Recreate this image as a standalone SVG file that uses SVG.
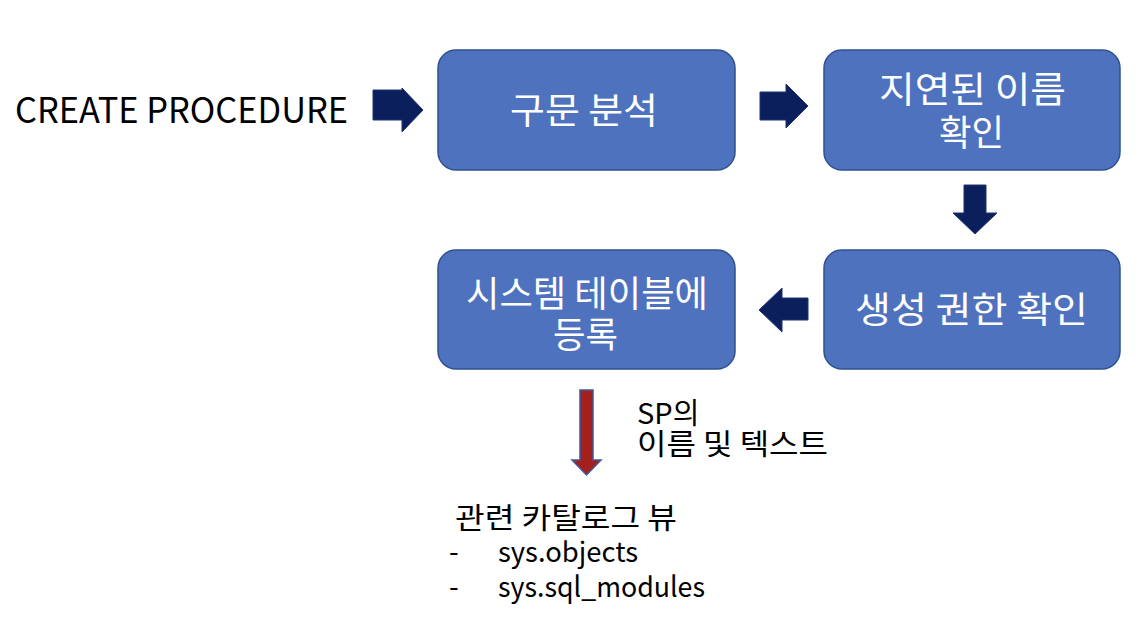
<svg xmlns="http://www.w3.org/2000/svg" width="1146" height="632" viewBox="0 0 1146 632">
<style>
.box{fill:#4F72BE;stroke:#2F528F;stroke-width:1.5}
.bt{fill:#fff;font-family:"Noto Sans CJK KR","Noto Sans",sans-serif;font-size:36px}
.t{fill:#000;font-family:"Noto Sans CJK KR","Noto Sans",sans-serif}
.arr{fill:#0B1F5C;stroke:#1F3470;stroke-width:1}
.red{fill:#A5201C;stroke:#3F58A0;stroke-width:1.5}
</style>
<rect width="1146" height="632" fill="#fff"/>
<text class="t" x="15" y="123" font-size="35" textLength="333" lengthAdjust="spacingAndGlyphs">CREATE PROCEDURE</text>
<g id="n1"><rect class="box" x="438" y="50" width="297" height="120" rx="18"/><text class="bt" x="510" y="124" textLength="148" lengthAdjust="spacingAndGlyphs">구문 분석</text></g>
<g id="n2"><rect class="box" x="824" y="50" width="296" height="120" rx="18"/><text class="bt"><tspan x="879" y="103" textLength="187" lengthAdjust="spacingAndGlyphs">지연된 이름</tspan><tspan x="939" y="146" textLength="65" lengthAdjust="spacingAndGlyphs">확인</tspan></text></g>
<g id="n3"><rect class="box" x="824" y="250" width="296" height="119" rx="18"/><text class="bt" x="855" y="323" textLength="233" lengthAdjust="spacingAndGlyphs">생성 권한 확인</text></g>
<g id="n4"><rect class="box" x="438" y="250" width="297" height="119" rx="18"/><text class="bt"><tspan x="466" y="307" textLength="242" lengthAdjust="spacingAndGlyphs">시스템 테이블에</tspan><tspan x="553" y="348" textLength="65" lengthAdjust="spacingAndGlyphs">등록</tspan></text></g>
<g id="connectors">
<path class="arr" d="M373,90 H402 V88 L423,110 L402,132 V120 H373 Z"/>
<path class="arr" d="M760,92 H786 V84 L808,106 L786,128 V120 H760 Z"/>
<path class="arr" d="M964,185 H986 V213 H997 L975,234 L953,213 H964 Z"/>
<path class="arr" d="M808,298 H782 V288 L759,310 L782,332 V320 H808 Z"/>
<path class="red" d="M580,390 H593 V460 H601 L586.5,475 L572,460 H580 Z"/>
</g>
<g id="labels">
<text class="t" font-size="29"><tspan x="637" y="424">SP의</tspan><tspan x="637" y="455" textLength="191" lengthAdjust="spacingAndGlyphs">이름 및 텍스트</tspan></text>
<text class="t" font-size="29"><tspan x="455" y="529" textLength="222" lengthAdjust="spacingAndGlyphs">관련 카탈로그 뷰</tspan></text>
<text class="t" font-size="28"><tspan x="449" y="562">-</tspan><tspan x="498" y="562" textLength="140" lengthAdjust="spacingAndGlyphs">sys.objects</tspan><tspan x="449" y="597">-</tspan><tspan x="498" y="597" textLength="207" lengthAdjust="spacingAndGlyphs">sys.sql_modules</tspan></text>
</g>
</svg>
